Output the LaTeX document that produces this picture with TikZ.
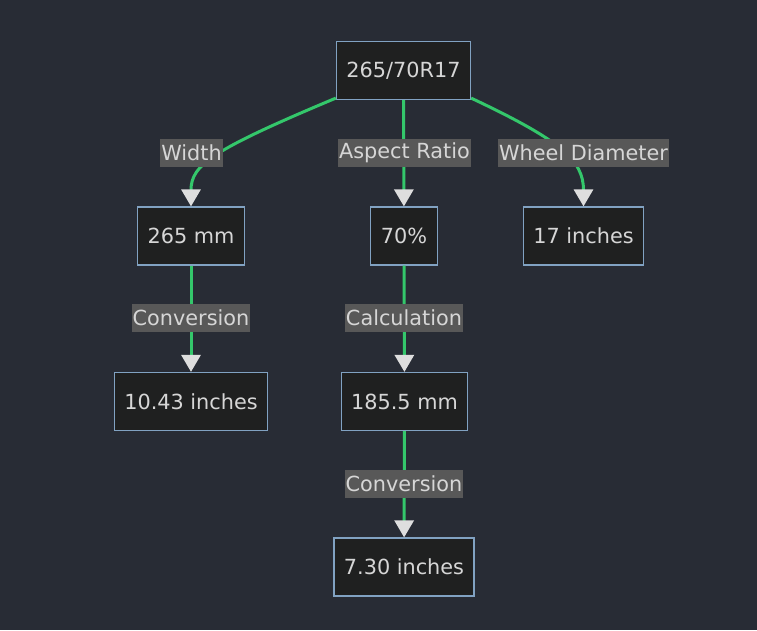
\documentclass[tikz,border=0pt]{standalone}
\usepackage{fontspec}
\setmainfont{DejaVu Sans}
\usetikzlibrary{arrows.meta}

\definecolor{bgcol}{RGB}{40,44,53}
\definecolor{boxfill}{RGB}{31,32,32}
\definecolor{boxline}{RGB}{129,162,194}
\definecolor{edgecol}{RGB}{52,199,107}
\definecolor{lblfill}{RGB}{88,88,88}
\definecolor{txtcol}{RGB}{214,214,214}
\definecolor{tipcol}{RGB}{222,222,222}

\tikzset{
    box/.style={draw=boxline, fill=boxfill, line width=1.2pt, text=txtcol,
        minimum height=58pt, inner xsep=10pt, font=\fontsize{20.8}{24}\selectfont},
    lbl/.style={fill=lblfill, text=txtcol, minimum height=28pt, inner xsep=1pt,
        inner ysep=0pt, font=\fontsize{20.8}{24}\selectfont},
    edge/.style={draw=edgecol, line width=3pt,
        -{Triangle[color=tipcol, width=19pt, length=17pt]}}
}

\begin{document}
\begin{tikzpicture}[x=1pt, y=-1pt]
    \fill[bgcol] (0,0) rectangle (757,630);
    \useasboundingbox (0,0) rectangle (757,630);

    \node[box] (tire) at (403.5, 70.5) {265/70R17};
    \node[box] (width) at (191, 236) {265 mm};
    \node[box] (ratio) at (404, 236) {70\%};
    \node[box] (wheel) at (583.5, 236) {17 inches};
    \node[box] (widthin) at (191, 401.5) {10.43 inches};
    \node[box] (sidemm) at (404.5, 401.5) {185.5 mm};
    \node[box] (sidein) at (404, 567) {7.30 inches};

    \draw[edge] (tire.south west) ++(0,-2) .. controls (212,150) and (191,165) .. (width.north);
    \draw[edge] (tire) -- (ratio);
    \draw[edge] (tire.south east) ++(0,-2) .. controls (560,140) and (583.5,160) .. (wheel.north);
    \draw[edge] (width) -- (widthin);
    \draw[edge] (ratio) -- (sidemm);
    \draw[edge] (sidemm) -- (sidein);

    \node[lbl] (lwidth) at (191.5, 153) {Width};
    \node[lbl] (lratio) at (404.5, 153) {Aspect Ratio};
    \node[lbl] (lwheel) at (583.5, 153) {Wheel Diameter};
    \node[lbl] (lconv) at (191, 318) {Conversion};
    \node[lbl] (lcalc) at (404, 318) {Calculation};
    \node[lbl] (lconv2) at (404, 484) {Conversion};
\end{tikzpicture}
\end{document}
